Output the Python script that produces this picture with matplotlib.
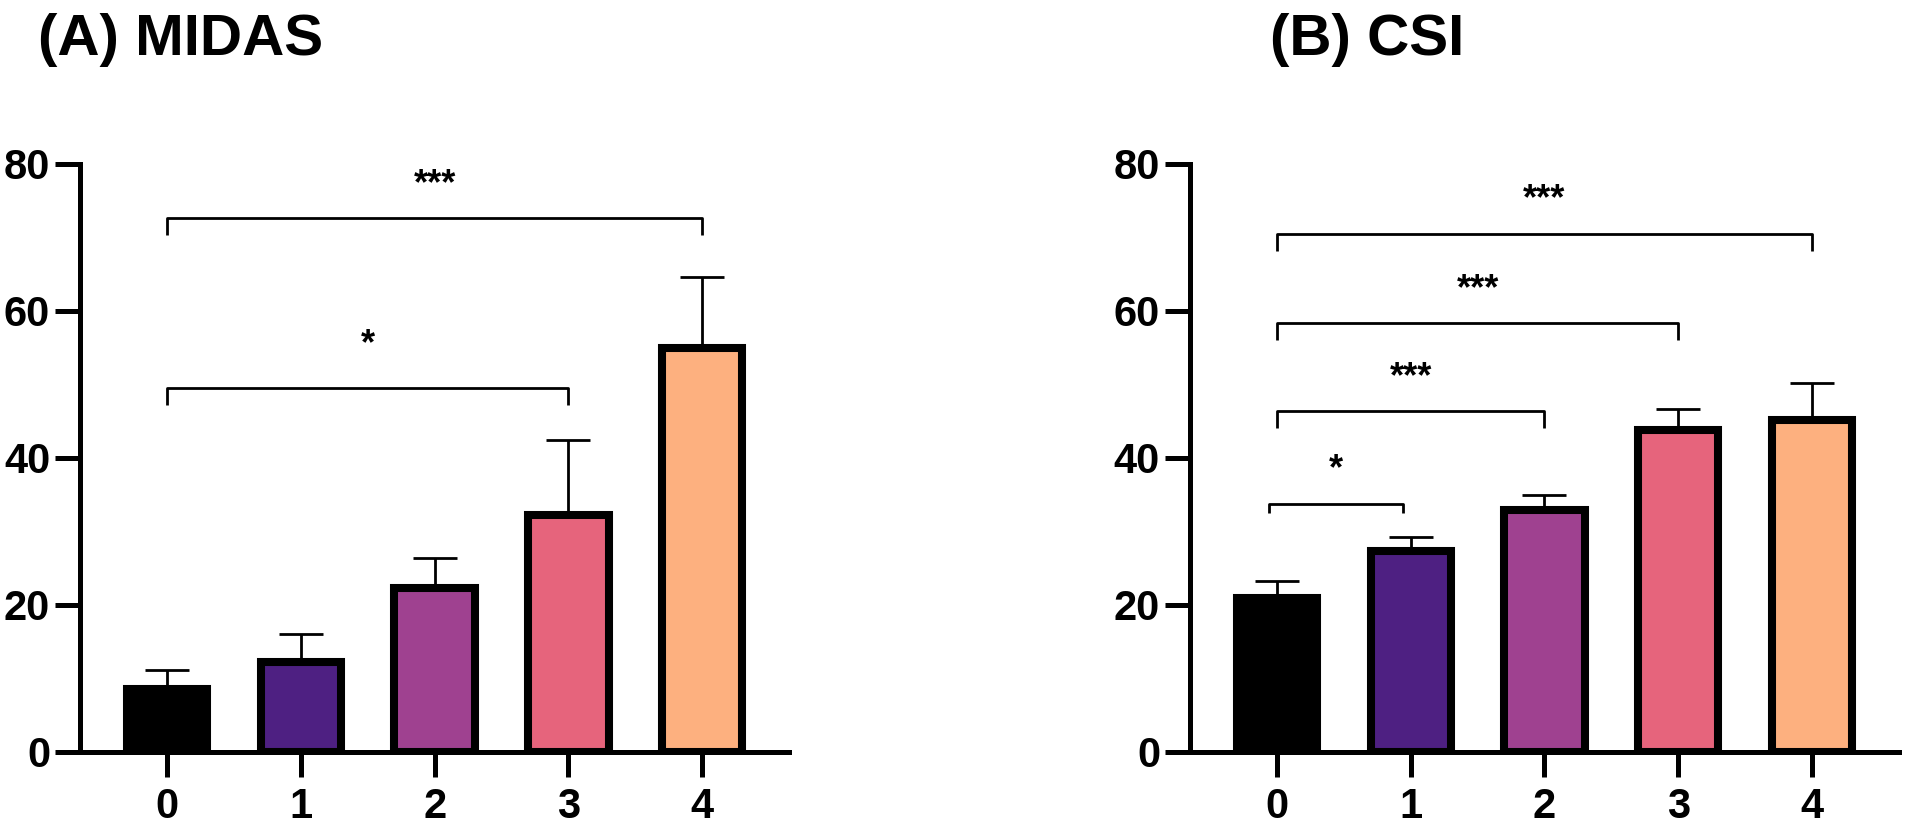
import matplotlib.pyplot as plt

plt.rcParams['font.family'] = ['Liberation Sans', 'DejaVu Sans']

groups = ['0', '1', '2', '3', '4']
bar_colors = ['#000000', '#4e2082', '#9f4190', '#e6647c', '#fdb07f']

# panel A: MIDAS
midas_mean = [8.5, 12.3, 22.3, 32.2, 55.0]
midas_err = [2.7, 3.8, 4.1, 10.2, 9.6]
midas_pairs = [(0, 4), (0, 3)]
midas_stars = ['***', '*']
midas_sig_y = [72.6, 49.5]
midas_star_y = [78.8, 57.0]

# panel B: CSI
csi_mean = [21.0, 27.4, 32.9, 43.8, 45.1]
csi_err = [2.3, 1.8, 2.0, 2.9, 5.1]
csi_pairs = [(0, 4), (0, 3), (0, 2), (0, 1)]
csi_stars = ['***', '***', '***', '*']
csi_sig_y = [70.5, 58.4, 46.4, 33.8]
csi_star_y = [76.8, 64.5, 52.5, 40.0]

fig = plt.figure(figsize=(19.07, 8.23), dpi=100)


def draw_panel(ax, means, errs, pairs, stars, sig_y, star_y, title, title_x):
    x = range(len(groups))
    ax.bar(x, means, width=0.6, color=bar_colors, edgecolor='black',
           linewidth=5.8, zorder=2)
    ax.errorbar(x, means, yerr=[[0] * len(errs), errs], fmt='none',
                ecolor='black', elinewidth=2, capsize=16, capthick=2, zorder=1)

    for (a, b), s, y, ty in zip(pairs, stars, sig_y, star_y):
        # GraphPad drew the shortest bracket a touch to the left
        shift = -0.06 if (a, b) == (0, 1) else 0
        xa, xb = a + shift, b + shift
        leg = 2.3 if b - a > 1 else 1.3
        ax.plot([xa, xa, xb, xb], [y - leg, y, y, y - leg], color='black',
                lw=2, solid_capstyle='butt', zorder=3, clip_on=False)
        # asterisk glyph sits high, so put the baseline below its centre
        ax.text((xa + xb) / 2, ty - 2.9, s, ha='center', va='baseline',
                fontsize=26, fontweight='bold', color='black')

    ax.set_xlim(-0.65, 4.65)
    ax.set_ylim(0, 80)
    ax.set_yticks([0, 20, 40, 60, 80])
    ax.set_xticks(list(x))
    ax.set_xticklabels(groups)
    for side in ['top', 'right']:
        ax.spines[side].set_visible(False)
    for side in ['left', 'bottom']:
        ax.spines[side].set_linewidth(3.6)
        ax.spines[side].set_zorder(4)
    ax.tick_params(axis='both', length=18, width=3.6, labelsize=30)
    ax.tick_params(axis='x', pad=7)
    ax.tick_params(axis='y', pad=3.5)
    for lab in ax.get_xticklabels() + ax.get_yticklabels():
        lab.set_fontweight('bold')
    fig.text(title_x, 0.933, title, fontsize=42, fontweight='bold',
             ha='left', va='baseline')


ax1 = fig.add_axes([0.042, 0.0863, 0.3718, 0.7145])
draw_panel(ax1, midas_mean, midas_err, midas_pairs, midas_stars, midas_sig_y,
           midas_star_y, '(A) MIDAS', 0.020)

ax2 = fig.add_axes([0.624, 0.0863, 0.3718, 0.7145])
draw_panel(ax2, csi_mean, csi_err, csi_pairs, csi_stars, csi_sig_y,
           csi_star_y, '(B) CSI', 0.666)

fig.savefig('out.png', dpi=100)
